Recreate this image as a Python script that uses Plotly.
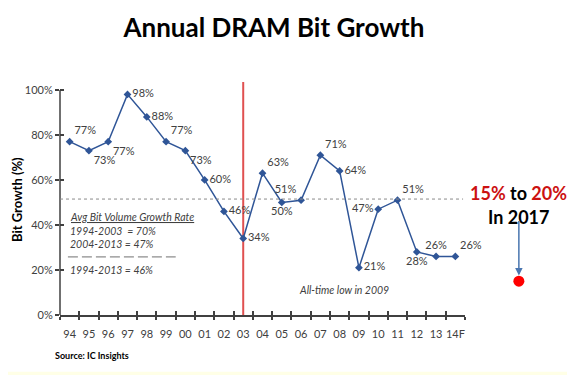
import plotly.graph_objects as go

years = ["94", "95", "96", "97", "98", "99", "00", "01", "02", "03", "04",
         "05", "06", "07", "08", "09", "10", "11", "12", "13", "14F"]
growth = [77, 73, 77, 98, 88, 77, 73, 60, 46, 34, 63,
          50, 51, 71, 64, 21, 47, 51, 28, 26, 26]
label_pos = ["top right", "bottom right", "bottom right", "middle right", "middle right",
             "top right", "bottom right", "middle right", "middle right", "middle right",
             "top right", "bottom center", "top left", "top right", "middle right",
             "middle right", "middle left", "top right", "bottom center", "top center",
             "top right"]
avg_lines = ["1994-2003  = 70%", "2004-2013 = 47%", "1994-2013 = 46%"]
avg_overall = 51.5
forecast_2017_low = 15
forecast_2017_high = 20
break_year_index = 9  # 2003

YMAX = 103.5
xpos = list(range(len(years)))
bounds = [i - 0.5 for i in range(len(years) + 1)]
yticks = [0, 20, 40, 60, 80, 100]

FONT = "Lato"
GRAY = "#404040"
BLUE = "#2F5597"

fig = go.Figure()

fig.add_trace(go.Scatter(
    x=xpos, y=growth, mode="lines+markers+text",
    line=dict(color=BLUE, width=1.5),
    marker=dict(symbol="diamond", size=6, color=BLUE),
    text=[f"{v}%" for v in growth], textposition=label_pos,
    textfont=dict(family=FONT, size=11, color=GRAY),
    cliponaxis=False, showlegend=False, hoverinfo="skip",
))

# dummy trace to activate overlay axes
fig.add_trace(go.Scatter(x=[], y=[], xaxis="x2", yaxis="y2", showlegend=False))

fig.update_layout(
    width=567, height=367,
    margin=dict(l=52, r=110, t=74, b=60),
    paper_bgcolor="white", plot_bgcolor="white",
    font=dict(family=FONT, color=GRAY),
    title=dict(text="<b>Annual DRAM Bit Growth</b>", x=0.469, xanchor="center",
               y=0.9455, yanchor="middle",
               font=dict(family=FONT, size=26, color="black")),
    xaxis=dict(range=[-0.5, len(years) - 0.5], tickmode="array", tickvals=xpos,
               ticktext=years, ticks="", showgrid=False, zeroline=False,
               showline=True, linecolor="#404040", linewidth=1.5,
               tickfont=dict(family=FONT, size=11, color=GRAY),
               ticklabelstandoff=8,
               minor=dict(tickmode="array", tickvals=bounds, ticks="outside",
                          ticklen=3, tickcolor="#404040", tickwidth=1.5)),
    xaxis2=dict(overlaying="x", range=[-0.5, len(years) - 0.5], tickmode="array",
                tickvals=bounds, ticks="inside", ticklen=4, tickwidth=1.5,
                tickcolor="#404040", showticklabels=False, showgrid=False,
                zeroline=False, showline=False, side="bottom"),
    yaxis=dict(range=[0, YMAX], tickmode="array", tickvals=yticks,
               ticktext=[f"{v}%" for v in yticks], ticks="outside", ticklen=4,
               tickwidth=1.5, tickcolor="#404040", showgrid=False, zeroline=False,
               showline=False, tickfont=dict(family=FONT, size=11, color=GRAY)),
    yaxis2=dict(overlaying="y", range=[0, YMAX], tickmode="array", tickvals=yticks,
                ticks="inside", ticklen=4, tickwidth=1.5, tickcolor="#404040",
                showticklabels=False, showgrid=False, zeroline=False,
                showline=False, side="left"),
)

# y axis line from 0% to 100%
fig.add_shape(type="line", xref="paper", yref="paper", x0=0, x1=0, y0=0, y1=100 / YMAX,
              line=dict(color="#404040", width=1.5), layer="above")
# overall average dotted line
fig.add_shape(type="line", xref="x", yref="y", x0=-0.5, x1=len(years) - 0.6,
              y0=avg_overall, y1=avg_overall,
              line=dict(color="#8a8a8a", width=1, dash="dot"))
# 2003 red divider
fig.add_shape(type="line", xref="x", yref="y", x0=break_year_index, x1=break_year_index,
              y0=0, y1=YMAX, line=dict(color="#E05050", width=2), layer="below")
# dashed separator in legend box
fig.add_shape(type="line", xref="x", yref="y", x0=-0.09, x1=5.5, y0=25.8, y1=25.8,
              line=dict(color="#707070", width=1, dash="10px,4px"))
# light yellow strip at bottom
fig.add_shape(type="rect", xref="paper", yref="paper", x0=-0.2, x1=1.3,
              y0=-0.26, y1=-0.244, fillcolor="#FFFFE6", line=dict(width=0), layer="below")

ital = dict(family=FONT, size=10.5, color=GRAY)
fig.add_annotation(x=-0.09, y=43.6, xref="x", yref="y", xanchor="left", yanchor="middle",
                   text="<i><u>Avg Bit Volume Growth Rate</u></i>", showarrow=False, font=ital)
for txt, yy in zip(avg_lines, [37.3, 31.6, 20.0]):
    fig.add_annotation(x=-0.09, y=yy, xref="x", yref="y", xanchor="left", yanchor="middle",
                       text=f"<i>{txt}</i>", showarrow=False, font=ital)
fig.add_annotation(x=14.23, y=11.1, xref="x", yref="y", xanchor="center", yanchor="middle",
                   text="<i>All-time low in 2009</i>", showarrow=False, font=ital)

# y axis title
fig.add_annotation(x=-0.106, y=0.494, xref="paper", yref="paper", textangle=-90,
                   xanchor="center", yanchor="middle",
                   text="<b>Bit Growth (%)</b>", showarrow=False,
                   font=dict(family=FONT, size=13, color="black"))

# 2017 forecast (outside the category axis)
x2017 = 1.133
fig.add_annotation(x=x2017, y=0.5236, xref="paper", yref="paper", showarrow=False,
                   xanchor="center", yanchor="middle",
                   text=(f"<b><span style='color:#CC1111'>{forecast_2017_low}%</span> to "
                         f"<span style='color:#CC1111'>{forecast_2017_high}%</span></b>"),
                   font=dict(family=FONT, size=18, color="black"))
fig.add_annotation(x=x2017, y=0.4206, xref="paper", yref="paper", showarrow=False,
                   xanchor="center", yanchor="middle",
                   text="<b>In 2017</b>", font=dict(family=FONT, size=18, color="black"))
fig.add_annotation(x=x2017, y=(forecast_2017_low + 2.5) / YMAX, xref="paper", yref="paper",
                   text="", showarrow=True, ax=0, ay=-56, arrowhead=2, arrowsize=1,
                   arrowwidth=1.5, arrowcolor="#4A76B0")
rx, ry = 5.5 / 405, 5.5 / 233
fig.add_shape(type="circle", xref="paper", yref="paper",
              x0=x2017 - rx, x1=x2017 + rx,
              y0=forecast_2017_low / YMAX - ry, y1=forecast_2017_low / YMAX + ry,
              fillcolor="#FF0000", line=dict(width=0))

# source
fig.add_annotation(x=-0.017, y=-0.172, xref="paper", yref="paper", xanchor="left",
                   yanchor="middle", text="<b>Source: IC Insights</b>", showarrow=False,
                   font=dict(family=FONT, size=9, color="black"))

fig.write_html("out.html")
